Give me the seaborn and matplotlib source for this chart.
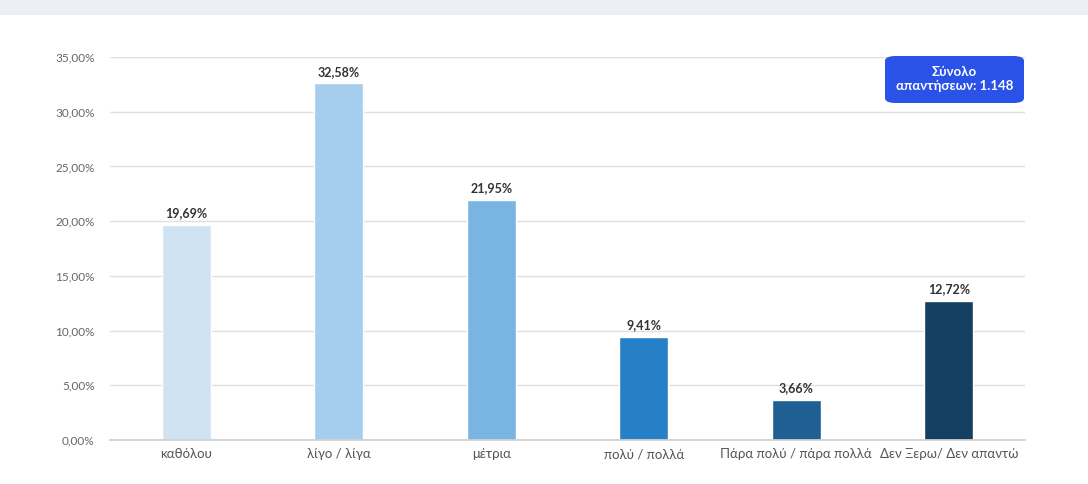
import matplotlib
matplotlib.use("Agg")
import matplotlib.pyplot as plt
import seaborn as sns
import pandas as pd
from matplotlib.patches import FancyBboxPatch, Rectangle

categories = ["καθόλου", "λίγο / λίγα", "μέτρια", "πολύ / πολλά",
              "Πάρα πολύ / πάρα πολλά", "Δεν Ξερω/ Δεν απαντώ"]
values = [19.69, 32.58, 21.95, 9.41, 3.66, 12.72]
colors = ["#cfe3f3", "#a5cdee", "#79b5e3", "#2580c8", "#1f5f94", "#133f60"]
yticks = [0, 5, 10, 15, 20, 25, 30, 35]
total_label = "Σύνολο\nαπαντήσεων: 1.148"

sns.set_theme(style="white")
plt.rcParams['font.family'] = ['Lato', 'DejaVu Sans']

df = pd.DataFrame({"cat": categories, "val": values})

fig = plt.figure(figsize=(10.88, 4.84), dpi=100)
fig.patch.set_facecolor("white")
# top band
fig.patches.append(Rectangle((0, 1 - 15/484), 1, 15/484, transform=fig.transFigure,
                             facecolor="#ecf0f4", edgecolor="none", zorder=0))

ax = fig.add_axes([110/1088, 44/484, 915/1088, 383/484])
sns.barplot(data=df, x="cat", y="val", hue="cat", palette=colors, legend=False,
            width=0.32, ax=ax, saturation=1)
ax.set_xlim(-0.5, 5.5)
ax.set_ylim(0, 35)
ax.set_yticks(yticks)
ax.set_yticklabels([f"{t:.2f}%".replace(".", ",") for t in yticks])
ax.yaxis.grid(True, color="#e0e0e0", linewidth=1)
ax.set_axisbelow(True)
for s in ["left", "right", "top"]:
    ax.spines[s].set_visible(False)
ax.spines["bottom"].set_color("#d0d0d0")
ax.tick_params(axis="y", labelsize=8.5, colors="#666666", length=0, pad=11)
ax.tick_params(axis="x", labelsize=9.5, colors="#555555", length=0, pad=6)
ax.set_xlabel("")
ax.set_ylabel("")

for i, v in enumerate(values):
    ax.annotate(f"{v:.2f}%".replace(".", ","), (i, v), xytext=(0, 4),
                textcoords="offset points", ha="center", va="bottom",
                fontsize=9, fontweight="bold", color="#333333")

# total box
box = FancyBboxPatch((885/1088, 1 - 103/484), 139/1088, 47/484,
                     boxstyle="round,pad=0,rounding_size=0.01",
                     transform=fig.transFigure, facecolor="#2a52e8",
                     edgecolor="none", zorder=5)
fig.patches.append(box)
fig.text(954.5/1088, 1 - 79/484, total_label, ha="center", va="center",
         color="white", fontsize=9.5, fontweight="bold", zorder=6, linespacing=1.15)

fig.savefig("out.png", dpi=100)
